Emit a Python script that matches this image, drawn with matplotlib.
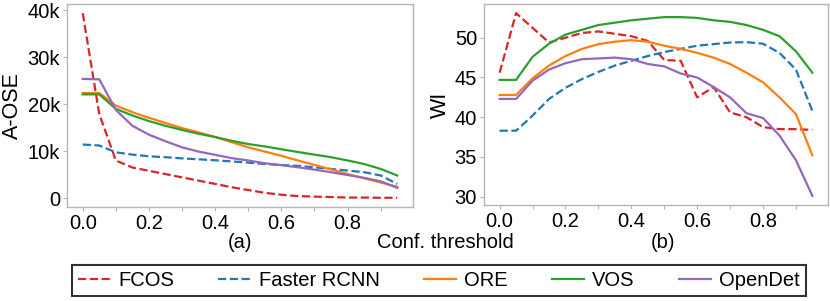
import matplotlib
matplotlib.use("Agg")
import matplotlib.pyplot as plt
import numpy as np

plt.rcParams['font.family'] = ['Liberation Sans', 'DejaVu Sans']

thresholds = [0.0, 0.05, 0.1, 0.15, 0.2, 0.25, 0.3, 0.35, 0.4, 0.45,
              0.5, 0.55, 0.6, 0.65, 0.7, 0.75, 0.8, 0.85, 0.9, 0.95]

aose_fcos = [39400, 17900, 8000, 6500, 5800, 5100, 4400, 3700, 3000, 2300,
             1700, 1100, 700, 400, 300, 200, 100, 100, 50, 50]
aose_frcnn = [11400, 11200, 9750, 9250, 8900, 8700, 8450, 8250, 8050, 7800,
              7550, 7250, 7050, 6850, 6550, 6200, 5850, 5500, 4800, 3000]
aose_ore = [22400, 22400, 19700, 18300, 17100, 16000, 14900, 14000, 13000, 11900,
            10800, 9900, 9000, 8000, 7050, 6100, 5100, 4200, 3300, 2400]
aose_vos = [22100, 22100, 19000, 17600, 16400, 15400, 14500, 13700, 13000, 12200,
            11500, 11000, 10400, 9800, 9250, 8700, 8000, 7250, 6200, 4800]
aose_opendet = [25400, 25300, 18800, 15400, 13500, 12100, 10800, 9900, 9200, 8500,
                8000, 7400, 7000, 6550, 6050, 5500, 4900, 4300, 3550, 2150]

wi_fcos = [45.6, 53.1, 51.25, 49.4, 50.0, 50.6, 50.8, 50.5, 50.2, 49.6,
           47.2, 47.1, 42.5, 43.8, 40.6, 40.0, 38.75, 38.5, 38.5, 38.4]
wi_frcnn = [38.3, 38.3, 40.2, 42.3, 43.7, 44.8, 45.7, 46.5, 47.1, 47.7,
            48.2, 48.6, 49.0, 49.2, 49.4, 49.45, 49.25, 48.1, 46.0, 40.8]
wi_ore = [42.8, 42.8, 44.9, 46.5, 47.7, 48.6, 49.2, 49.5, 49.7, 49.5,
          49.0, 48.6, 48.1, 47.5, 46.7, 45.6, 44.4, 42.5, 40.4, 35.2]
wi_vos = [44.7, 44.7, 47.6, 49.25, 50.4, 51.0, 51.6, 51.9, 52.2, 52.4,
          52.6, 52.6, 52.5, 52.2, 52.0, 51.6, 51.0, 50.2, 48.3, 45.6]
wi_opendet = [42.3, 42.3, 44.6, 46.0, 46.8, 47.3, 47.4, 47.5, 47.3, 46.7,
              46.4, 45.5, 45.0, 43.8, 42.5, 40.5, 39.9, 37.7, 34.6, 30.1]

methods = ['FCOS', 'Faster RCNN', 'ORE', 'VOS', 'OpenDet']
colors = ['#d62728', '#1f77b4', '#ff7f0e', '#2ca02c', '#9467bd']
styles = ['--', '--', '-', '-', '-']

aose = [aose_fcos, aose_frcnn, aose_ore, aose_vos, aose_opendet]
wi = [wi_fcos, wi_frcnn, wi_ore, wi_vos, wi_opendet]

fig = plt.figure(figsize=(8.3, 3.01), dpi=100)
ax1 = fig.add_axes([67/830, 1-207/301, (413-67)/830, (207-4)/301])
ax2 = fig.add_axes([484/830, 1-205/301, (828-484)/830, (205-4)/301])

spine_c = '#b5b5b5'
fs = 14.5
for ax, data in ((ax1, aose), (ax2, wi)):
    for d, c, s, m in zip(data, colors, styles, methods):
        ax.plot(thresholds, d, color=c, linestyle=s, linewidth=1.6, label=m)
    for sp in ax.spines.values():
        sp.set_color(spine_c)
        sp.set_linewidth(1.0)
    ax.set_xticks(np.arange(0, 0.96, 0.1))
    ax.set_xticklabels(['0.0', '', '0.2', '', '0.4', '', '0.6', '', '0.8', ''])
    ax.tick_params(axis='both', colors=spine_c, labelcolor='black', labelsize=fs,
                   length=3, width=0.8, pad=2)

ax1.set_yticks([0, 10000, 20000, 30000, 40000])
ax1.set_yticklabels(['0', '10k', '20k', '30k', '40k'])
ax1.set_ylabel('A-OSE', fontsize=15.5, labelpad=3)
ax2.set_yticks([30, 35, 40, 45, 50])
ax2.set_ylabel('WI', fontsize=15.5, labelpad=3)

fig.text(240/830, 1-243/301, '(a)', ha='center', va='center', fontsize=fs)
fig.text(445/830, 1-243/301, 'Conf. threshold', ha='center', va='center', fontsize=fs)
fig.text(663/830, 1-243/301, '(b)', ha='center', va='center', fontsize=fs)

handles, labels = ax1.get_legend_handles_labels()
leg = fig.legend(handles, labels, loc='center', ncol=5,
                 bbox_to_anchor=(439/830, 1-280.5/301), fontsize=fs,
                 frameon=True, fancybox=False, edgecolor='black',
                 handlelength=1.6, handletextpad=0.4, columnspacing=2.2,
                 borderpad=0.3)
leg.get_frame().set_linewidth(1.5)
leg.get_frame().set_edgecolor('black')

fig.savefig('out.png', dpi=100)
